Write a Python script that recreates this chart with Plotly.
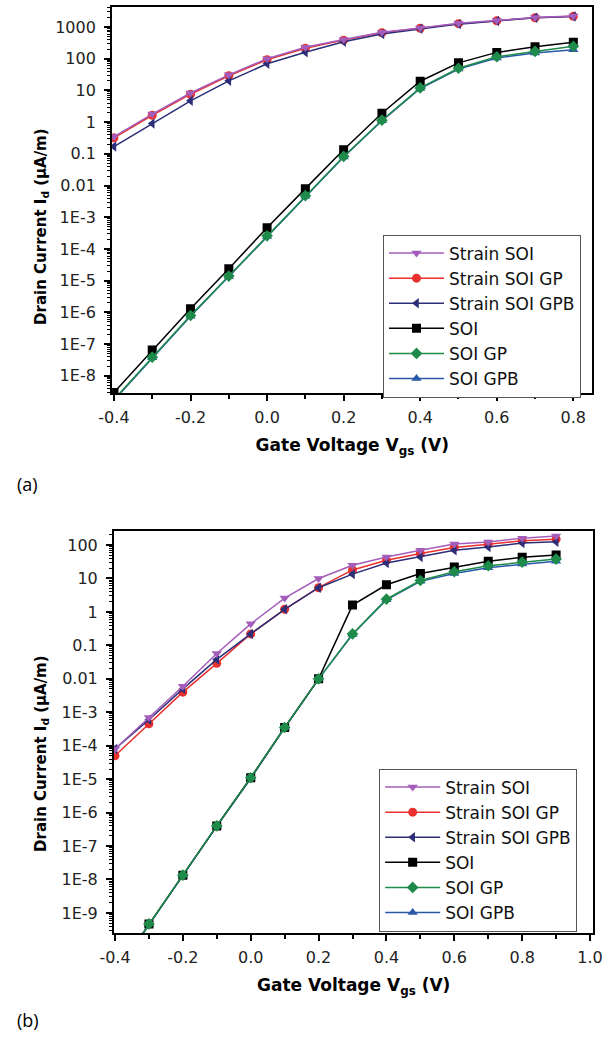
import plotly.graph_objects as go

# ---------------- data ----------------
vgs_a = [-0.4, -0.3, -0.2, -0.1, 0.0, 0.1, 0.2, 0.3, 0.4, 0.5, 0.6, 0.7, 0.8]
a_strain_soi = [0.35, 1.8, 8.3, 31, 100, 230, 400, 680, 930, 1300, 1600, 2000, 2200]
a_strain_soi_gp = [0.32, 1.65, 7.6, 29, 93, 215, 385, 660, 910, 1270, 1570, 1960, 2170]
a_strain_soi_gpb = [0.17, 0.9, 4.7, 20, 69, 160, 340, 600, 880, 1230, 1550, 1950, 2150]
a_soi = [3.0e-9, 6.5e-8, 1.3e-6, 2.4e-5, 4.7e-4, 8.0e-3, 0.135, 1.9, 19.5, 74, 158, 240, 330]
a_soi_gp = [1.8e-9, 3.9e-8, 8.0e-7, 1.4e-5, 2.6e-4, 4.8e-3, 0.083, 1.15, 12, 50, 115, 170, 245]
a_soi_gpb = [1.7e-9, 3.7e-8, 7.6e-7, 1.35e-5, 2.5e-4, 4.6e-3, 0.08, 1.1, 11.5, 47, 105, 150, 190]

vgs_b = [-0.4, -0.3, -0.2, -0.1, 0.0, 0.1, 0.2, 0.3, 0.4, 0.5, 0.6, 0.7, 0.8, 0.9]
b_strain_soi = [8e-5, 7e-4, 6e-3, 0.057, 0.44, 2.6, 10, 25, 44, 70, 107, 124, 160, 185]
b_strain_soi_gp = [5e-5, 4.5e-4, 4e-3, 0.029, 0.22, 1.2, 5.3, 18, 35, 56, 85, 105, 135, 150]
b_strain_soi_gpb = [8e-5, 6e-4, 5e-3, 0.038, 0.22, 1.2, 5.3, 13.5, 29, 44, 70, 87, 115, 125]
b_soi = [1.5e-11, 4.7e-10, 1.35e-8, 4e-7, 1.1e-5, 3.5e-4, 0.01, 1.6, 6.5, 14, 22, 33, 43, 50]
b_soi_gp = [1.5e-11, 4.7e-10, 1.35e-8, 4e-7, 1.1e-5, 3.5e-4, 0.01, 0.22, 2.4, 8.7, 16, 24, 31, 38]
b_soi_gpb = [1.5e-11, 4.6e-10, 1.3e-8, 3.9e-7, 1.05e-5, 3.4e-4, 0.0098, 0.21, 2.3, 8.2, 14, 21, 27, 33]

names = ["Strain SOI", "Strain SOI GP", "Strain SOI GPB", "SOI", "SOI GP", "SOI GPB"]
colors = ["#A55DBB", "#E8312F", "#2C2E78", "#000000", "#1E8B4A", "#2A58A8"]
symbols = ["triangle-down", "circle", "triangle-left", "square", "diamond", "triangle-up"]

ytick_a = [1e-8, 1e-7, 1e-6, 1e-5, 1e-4, 1e-3, 0.01, 0.1, 1, 10, 100, 1000]
ytext_a = ["1E-8", "1E-7", "1E-6", "1E-5", "1E-4", "1E-3", "0.01", "0.1", "1", "10", "100", "1000"]
ytick_b = [1e-9, 1e-8, 1e-7, 1e-6, 1e-5, 1e-4, 1e-3, 0.01, 0.1, 1, 10, 100]
ytext_b = ["1E-9", "1E-8", "1E-7", "1E-6", "1E-5", "1E-4", "1E-3", "0.01", "0.1", "1", "10", "100"]
xtick_a = [-0.4, -0.2, 0.0, 0.2, 0.4, 0.6, 0.8]
xtext_a = ["-0.4", "-0.2", "0.0", "0.2", "0.4", "0.6", "0.8"]
xtick_b = [-0.4, -0.2, 0.0, 0.2, 0.4, 0.6, 0.8, 1.0]
xtext_b = ["-0.4", "-0.2", "0.0", "0.2", "0.4", "0.6", "0.8", "1.0"]

FONT = "DejaVu Sans, sans-serif"
W, H = 613, 1045

fig = go.Figure()

series_a = [a_strain_soi, a_strain_soi_gp, a_strain_soi_gpb, a_soi, a_soi_gp, a_soi_gpb]
series_b = [b_strain_soi, b_strain_soi_gp, b_strain_soi_gpb, b_soi, b_soi_gp, b_soi_gpb]

# drawing order (later = on top); legend order kept via legendrank
draw_order = [5, 3, 4, 1, 2, 0]

for i in draw_order:
    fig.add_trace(go.Scatter(x=vgs_a, y=series_a[i], name=names[i], mode="lines+markers",
                             line=dict(color=colors[i], width=1.5),
                             marker=dict(symbol=symbols[i], size=9, color=colors[i]),
                             xaxis="x", yaxis="y", legend="legend", legendrank=i + 1))
for i in draw_order:
    fig.add_trace(go.Scatter(x=vgs_b, y=series_b[i], name=names[i], mode="lines+markers",
                             line=dict(color=colors[i], width=1.5),
                             marker=dict(symbol=symbols[i], size=9, color=colors[i]),
                             xaxis="x2", yaxis="y2", legend="legend2", legendrank=i + 1))


def minor_vals(lo, hi):
    out = []
    for d in range(lo, hi + 1):
        for m in range(2, 10):
            out.append(m * 10.0 ** d)
    return out


axis_common = dict(showline=True, linecolor="black", linewidth=2, mirror=True,
                   ticks="outside", tickcolor="black", tickwidth=1.5, ticklen=6,
                   showgrid=False, zeroline=False,
                   tickfont=dict(family=FONT, size=16, color="#222"))

xtitle = dict(text="<b>Gate Voltage V<sub>gs</sub> (V)</b>",
              font=dict(family=FONT, size=17, color="black"), standoff=13)
ytitle_text = "<b>Drain Current I<sub>d</sub> (μA/m)</b>"

leg_common = dict(xanchor="left", yanchor="middle", bordercolor="#555", borderwidth=1,
                  bgcolor="white", font=dict(family=FONT, size=17, color="#111"),
                  tracegroupgap=0, itemwidth=55)

fig.update_layout(
    width=W, height=H, margin=dict(l=0, r=0, t=0, b=0),
    paper_bgcolor="white", plot_bgcolor="white",
    xaxis=dict(domain=[101 / W, 601 / W], range=[-0.405, 0.85], anchor="y",
               tickvals=xtick_a, ticktext=xtext_a, ticklabelstandoff=3,
               minor=dict(ticks="outside", tickvals=[-0.3, -0.1, 0.1, 0.3, 0.5, 0.7], ticklen=4,
                          tickcolor="black", tickwidth=1.5),
               title=xtitle, **axis_common),
    yaxis=dict(domain=[1 - 393 / H, 1 - 7 / H], type="log", range=[-8.54, 3.63], anchor="x",
               tickvals=ytick_a, ticktext=ytext_a, ticklabelstandoff=5,
               minor=dict(ticks="outside", tickvals=minor_vals(-9, 3), ticklen=3,
                          tickcolor="black", tickwidth=1),
               **axis_common),
    xaxis2=dict(domain=[103 / W, 602 / W], range=[-0.403, 1.01], anchor="y2",
                tickvals=xtick_b, ticktext=xtext_b, ticklabelstandoff=3,
                minor=dict(ticks="outside", tickvals=[-0.3, -0.1, 0.1, 0.3, 0.5, 0.7, 0.9], ticklen=4,
                           tickcolor="black", tickwidth=1.5),
                title=xtitle, **axis_common),
    yaxis2=dict(domain=[1 - 933 / H, 1 - 531 / H], type="log", range=[-9.6, 2.42], anchor="x2",
                tickvals=ytick_b, ticktext=ytext_b, ticklabelstandoff=5,
                minor=dict(ticks="outside", tickvals=minor_vals(-10, 2), ticklen=3,
                           tickcolor="black", tickwidth=1),
                **axis_common),
    legend=dict(x=383 / W, y=1 - 316 / H, **leg_common),
    legend2=dict(x=379 / W, y=1 - 850 / H, **leg_common),
    annotations=[
        dict(text=ytitle_text, x=27 / W, y=1 - 226 / H, xref="paper", yref="paper",
             xanchor="center", yanchor="middle", textangle=-90, showarrow=False,
             font=dict(family=FONT, size=15, color="black")),
        dict(text=ytitle_text, x=27 / W, y=1 - 753 / H, xref="paper", yref="paper",
             xanchor="center", yanchor="middle", textangle=-90, showarrow=False,
             font=dict(family=FONT, size=15, color="black")),
        dict(text="(a)", x=0, y=1 - 484 / H, xref="paper", yref="paper", xanchor="left", yanchor="middle",
             showarrow=False, font=dict(family="Open Sans, sans-serif", size=18, color="black")),
        dict(text="(b)", x=0, y=1 - 1020 / H, xref="paper", yref="paper", xanchor="left", yanchor="middle",
             showarrow=False, font=dict(family="Open Sans, sans-serif", size=18, color="black")),
    ],
    showlegend=True,
)

fig.write_html("out.html")
